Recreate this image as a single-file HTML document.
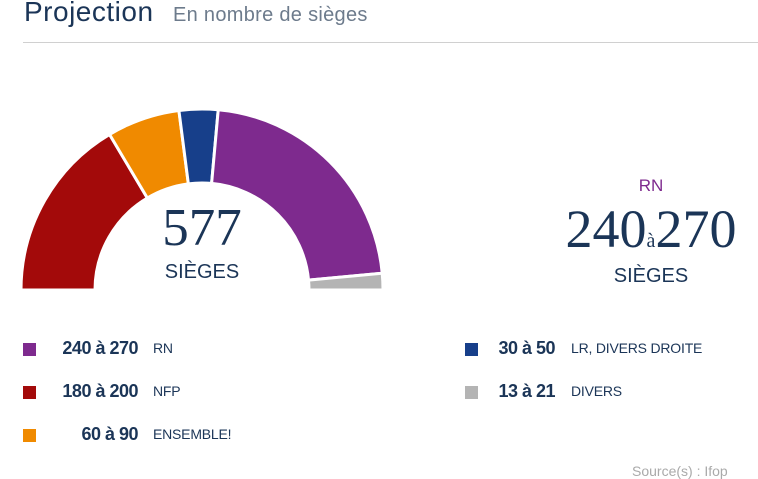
<!DOCTYPE html>
<html><head><meta charset="utf-8"><style>
body{margin:0;width:758px;height:471px;overflow:hidden;background:#fff;font-family:"Liberation Sans",sans-serif;color:#1b3557;position:relative}
.a{position:absolute;white-space:nowrap}
.sq{position:absolute;width:13px;height:13px}
.n{position:absolute;font-weight:bold;font-size:18px;text-align:right;width:120px;letter-spacing:-0.5px}
.l{position:absolute;font-size:14px;letter-spacing:-0.2px}
</style></head><body>
<div class="a" style="left:24px;top:-4px;font-size:28px;color:#1b3557;letter-spacing:0.5px">Projection</div>
<div class="a" style="left:173px;top:4px;font-size:20px;color:#6d7b8c;letter-spacing:0.3px">En nombre de sièges</div>
<div class="a" style="left:23px;top:42px;width:735px;height:1px;background:#d0d0d0"></div>
<svg class="a" style="left:0;top:0" width="758" height="471" id="s"></svg>
<div class="a" style="left:102px;top:198px;width:200px;text-align:center;font-family:'Liberation Serif',serif;font-size:53px;color:#1b3557">577</div>
<div class="a" style="left:102px;top:261px;width:200px;text-align:center;font-size:20px;color:#1b3557">SIÈGES</div>
<div class="a" style="left:551px;top:176px;width:200px;text-align:center;font-size:17px;color:#7e2a8e">RN</div>
<div class="a" style="left:531px;top:198px;width:240px;text-align:center;font-family:'Liberation Serif',serif;font-size:54px;color:#1b3557">240<span style="font-size:20px">à</span>270</div>
<div class="a" style="left:551px;top:265px;width:200px;text-align:center;font-size:20px;color:#1b3557">SIÈGES</div>

<div class="sq" style="left:23px;top:343px;background:#7e2a8e"></div>
<div class="n" style="left:18px;top:338px">240 à 270</div><div class="l" style="left:153px;top:340px">RN</div>
<div class="sq" style="left:23px;top:386px;background:#a30a0a"></div>
<div class="n" style="left:18px;top:381px">180 à 200</div><div class="l" style="left:153px;top:383px">NFP</div>
<div class="sq" style="left:23px;top:429px;background:#f08a00"></div>
<div class="n" style="left:18px;top:424px">60 à 90</div><div class="l" style="left:153px;top:426px">ENSEMBLE!</div>
<div class="sq" style="left:465px;top:343px;background:#173f8a"></div>
<div class="n" style="left:435px;top:338px">30 à 50</div><div class="l" style="left:571px;top:340px">LR, DIVERS DROITE</div>
<div class="sq" style="left:465px;top:386px;background:#b4b4b4"></div>
<div class="n" style="left:435px;top:381px">13 à 21</div><div class="l" style="left:571px;top:383px">DIVERS</div>
<div class="a" style="left:632px;top:463px;font-size:14px;color:#aaa">Source(s) : Ifop</div>
<script>
var cx=202,cy=290,R=181,r=107,d=[[190,'#a30a0a'],[75,'#f08a00'],[40,'#173f8a'],[255,'#7e2a8e'],[17,'#b4b4b4']],t=577,a=0,h='';
function p(ang,rad){var th=Math.PI-ang*Math.PI/t;return (cx+rad*Math.cos(th)).toFixed(2)+' '+(cy-rad*Math.sin(th)).toFixed(2);}
d.forEach(function(s){var b=a+s[0];h+='<path d="M'+p(a,R)+' A'+R+' '+R+' 0 0 1 '+p(b,R)+' L'+p(b,r)+' A'+r+' '+r+' 0 0 0 '+p(a,r)+'Z" fill="'+s[1]+'" stroke="#fff" stroke-width="3"/>';a=b;});
document.getElementById('s').innerHTML=h;
</script>
</body></html>
